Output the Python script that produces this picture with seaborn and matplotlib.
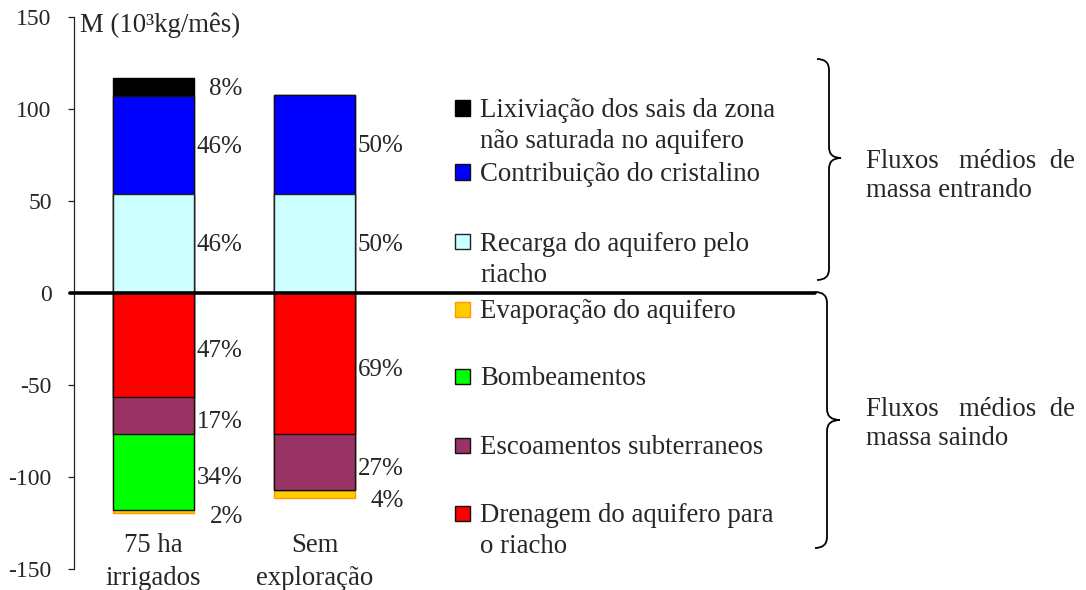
import matplotlib
matplotlib.use("Agg")
import matplotlib.pyplot as plt
from matplotlib.patches import Rectangle, PathPatch
from matplotlib.path import Path
import pandas as pd
import seaborn as sns

# Scenarios
categories = ["75 ha\nirrigados", "Sem\nexploração"]

# Mean mass fluxes entering the aquifer (10^3 kg/month)
recarga = [54.0, 54.0]
contribuicao = [53.0, 53.6]
lixiviacao = [10.0, 0.0]

# Mean mass fluxes leaving the aquifer (10^3 kg/month)
drenagem = [56.3, 76.8]
escoamentos = [20.5, 30.2]
bombeamentos = [41.0, 0.0]
evaporacao = [2.0, 4.2]

# Share of each flux in the total entering / leaving
pct_recarga = ["46%", "50%"]
pct_contribuicao = ["46%", "50%"]
pct_lixiviacao = ["8%", ""]
pct_drenagem = ["47%", "69%"]
pct_escoamentos = ["17%", "27%"]
pct_bombeamentos = ["34%", ""]
pct_evaporacao = ["2%", "4%"]

y_ticks = [-150, -100, -50, 0, 50, 100, 150]
y_title = "M (10³kg/mês)"
group_in = "Fluxos   médios  de\nmassa entrando"
group_out = "Fluxos   médios  de\nmassa saindo"

# name, values, labels, fill, edge
inflows = [
    ("Recarga do aquifero pelo\nriacho", recarga, pct_recarga, "#CCFFFF", "#222222"),
    ("Contribuição do cristalino", contribuicao, pct_contribuicao, "#0000FF", "#111111"),
    ("Lixiviação dos sais da zona\nnão saturada no aquifero", lixiviacao, pct_lixiviacao, "#000000", "#000000"),
]
outflows = [
    ("Drenagem do aquifero para\no riacho", drenagem, pct_drenagem, "#FF0000", "#111111"),
    ("Escoamentos subterraneos", escoamentos, pct_escoamentos, "#993366", "#111111"),
    ("Bombeamentos", bombeamentos, pct_bombeamentos, "#00FF00", "#111111"),
    ("Evaporação do aquifero", evaporacao, pct_evaporacao, "#FFCC00", "#FF9900"),
]

sns.set_style("white")
plt.rcParams["font.family"] = ["Liberation Serif", "DejaVu Serif"]

W, H = 1086, 590
fig = plt.figure(figsize=(W / 100, H / 100), dpi=100)


def fx(px):
    return px / W


def fy(py):
    return 1 - py / H


ax = fig.add_axes([fx(74), fy(569), fx(815 - 74), (569 - 17) / H])

TXT = 19.3
PCT = 18


def stacked(groups, sign):
    # cumulative limits of every segment
    segs = []
    base = [0.0] * len(categories)
    for name, vals, labels, fill, edge in groups:
        lo = base[:]
        hi = [b + sign * v for b, v in zip(base, vals)]
        segs.append((name, vals, labels, fill, edge, lo, hi))
        base = hi
    # draw outermost cumulative bar first so inner ones overlay it
    for name, vals, labels, fill, edge, lo, hi in reversed(segs):
        df = pd.DataFrame({"cenario": categories, "M": hi})
        sns.barplot(data=df, x="cenario", y="M", order=categories, color=fill,
                    saturation=1, width=0.5, edgecolor=edge, linewidth=1.0,
                    errorbar=None, ax=ax, zorder=2)
    for name, vals, labels, fill, edge, lo, hi in segs:
        for i, (v, lab) in enumerate(zip(vals, labels)):
            if not lab:
                continue
            if v < 6:
                y = hi[i] - 2
            elif sign > 0:
                y = (lo[i] + hi[i]) / 2 - 1
            else:
                y = (lo[i] + hi[i]) / 2 - 3.5
            ax.text(i + 0.555, y, lab, ha="right", va="center", fontsize=PCT)
    return segs


stacked(inflows, 1)
stacked(outflows, -1)

ax.set_xlim(-0.494, 4.109)
ax.set_ylim(-150, 150)
ax.set_yticks(y_ticks)
ax.set_yticklabels([str(t) for t in y_ticks])
ax.set_xlabel("")
ax.set_ylabel("")
ax.axhline(0, xmin=-0.006, color="black", lw=2.6, zorder=6, clip_on=False)

for s in ["top", "right", "bottom"]:
    ax.spines[s].set_visible(False)
ax.spines["left"].set_color("#222222")
ax.spines["left"].set_linewidth(0.9)
ax.tick_params(axis="y", left=True, length=4, width=0.9, color="#222222",
               labelsize=17, pad=12)
ax.tick_params(axis="x", bottom=False, length=0, labelsize=TXT, pad=-26)
for lab in ax.get_xticklabels():
    lab.set_linespacing(1.42)

fig.text(fx(80), fy(25), y_title, ha="left", va="center", fontsize=TXT)

# legend, laid out item by item
legend_rows = [
    (inflows[2], 108),
    (inflows[1], 172),
    (inflows[0], 242),
    (outflows[3], 309),
    (outflows[2], 376),
    (outflows[1], 445),
    (outflows[0], 513),
]
for (name, vals, labels, fill, edge), ycen in legend_rows:
    fig.add_artist(Rectangle((fx(455), fy(ycen + 7.5)), 15 / W, 15 / H,
                             transform=fig.transFigure, facecolor=fill,
                             edgecolor=edge, lw=1.0))
    fig.text(fx(480), fy(ycen - 10), name, ha="left", va="top", fontsize=TXT,
             linespacing=1.33)


def brace(x_end, x_stem, x_tip, y_top, y_mid, y_bot, r=11):
    pts = [(x_end, y_top), (x_stem, y_top), (x_stem, y_top + r),
           (x_stem, y_mid - r),
           (x_stem, y_mid), (x_tip, y_mid),
           (x_stem, y_mid), (x_stem, y_mid + r),
           (x_stem, y_bot - r),
           (x_stem, y_bot), (x_end, y_bot)]
    codes = [Path.MOVETO, Path.CURVE3, Path.CURVE3, Path.LINETO,
             Path.CURVE3, Path.CURVE3, Path.CURVE3, Path.CURVE3,
             Path.LINETO, Path.CURVE3, Path.CURVE3]
    path = Path([(fx(x), fy(y)) for x, y in pts], codes)
    fig.add_artist(PathPatch(path, transform=fig.transFigure, fill=False,
                             edgecolor="black", lw=1.3))


brace(817, 829, 841, 59, 158, 280)
brace(815, 827, 840, 292, 420, 548)

fig.text(fx(866), fy(149), group_in, ha="left", va="top", fontsize=TXT, linespacing=1.22)
fig.text(fx(866), fy(397), group_out, ha="left", va="top", fontsize=TXT, linespacing=1.22)

fig.savefig("out.png", dpi=100)
